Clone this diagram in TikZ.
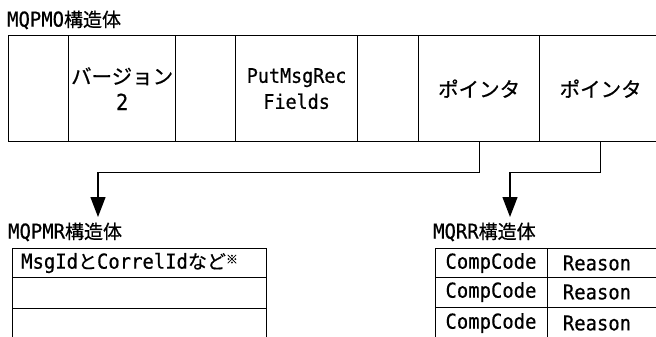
\documentclass[tikz,border=0pt]{standalone}
\usepackage{fontspec}
\setmainfont[FakeBold=0.6]{Noto Sans CJK JP}
\newfontfamily\latn[Scale=1.08,FakeStretch=0.92,FakeBold=0.6]{DejaVu Sans Mono}
\usetikzlibrary{arrows.meta}
\newcommand\Lt[1]{{\latn #1}}

\begin{document}
\begin{tikzpicture}[x=1pt,y=-1pt,
  frame/.style={draw=black,line width=1.3pt,inner sep=0pt,anchor=north west},
  topcell/.style={frame,minimum height=106pt,align=center,
    font=\fontsize{18.5}{26}\selectfont},
  rowcell/.style={frame,align=center,font=\fontsize{19}{20}\selectfont},
  lbl/.style={inner sep=0pt,anchor=west,font=\fontsize{19}{20}\selectfont},
  txt/.style={inner sep=0pt,font=\fontsize{19}{20}\selectfont},
  conn/.style={draw=black,line width=1.3pt,-{Triangle[length=20pt,width=15pt]}}]

\clip (0,0) rectangle (656,337);
\fill[white] (0,0) rectangle (656,337);

% MQPMO structure: one row of fields
\node[lbl] (lpmo) at (7,20) {\Lt{MQPMO}構造体};
\node[topcell,minimum width=60pt]  (c1) at (8,35)   {};
\node[topcell,minimum width=107pt,font=\fontsize{20.5}{26}\selectfont] (c2) at (68,35) {バージョン\\\Lt{2}};
\node[topcell,minimum width=60pt]  (c3) at (175,35) {};
\node[topcell,minimum width=122pt] (c4) at (235,35) {\Lt{PutMsgRec}\\\Lt{Fields}};
\node[topcell,minimum width=61pt]  (c5) at (357,35) {};
\node[topcell,minimum width=121pt,font=\fontsize{20.5}{24}\selectfont] (c6) at (418,35) {ポインタ};
\node[topcell,minimum width=122pt,font=\fontsize{20.5}{24}\selectfont] (c7) at (539,35) {ポインタ};

% MQPMR structure
\node[lbl] (lpmr) at (8,232) {\Lt{MQPMR}構造体};
\node[rowcell,minimum width=254pt,minimum height=29pt] (p1) at (12,248) {};
\node[rowcell,minimum width=254pt,minimum height=31pt] (p2) at (12,277) {};
\node[rowcell,minimum width=254pt,minimum height=50pt] (p3) at (12,308) {};
\node[txt,anchor=west] (pt) at (21,263)
  {\Lt{MsgId}と\Lt{CorrelId}など\raisebox{5pt}{\fontsize{12}{12}\selectfont ※}};

% MQRR structure
\node[lbl] (lrr) at (433,232) {\Lt{MQRR}構造体};
\node[rowcell,minimum width=112pt,minimum height=29pt] (a1) at (435,248) {};
\node[rowcell,minimum width=112pt,minimum height=30pt] (a2) at (435,277) {};
\node[rowcell,minimum width=112pt,minimum height=50pt] (a3) at (435,307) {};
\node[rowcell,minimum width=130pt,minimum height=29pt] (b1) at (547,248) {};
\node[rowcell,minimum width=130pt,minimum height=30pt] (b2) at (547,277) {};
\node[rowcell,minimum width=130pt,minimum height=50pt] (b3) at (547,307) {};
\node[txt] (q1) at (491,263) {\Lt{CompCode}};
\node[txt] (q2) at (491,292) {\Lt{CompCode}};
\node[txt] (q3) at (491,323) {\Lt{CompCode}};
\node[txt] (r1) at (597,263) {\Lt{Reason}};
\node[txt] (r2) at (597,292) {\Lt{Reason}};
\node[txt] (r3) at (597,323) {\Lt{Reason}};

% pointer connectors
\coordinate (tipA) at (98,217);
\coordinate (tipB) at (510,217);
\draw[conn] (c6.south) -- ++(0,30) -| (tipA);
\draw[conn] (c7.south) -- ++(0,30) -| (tipB);
\end{tikzpicture}
\end{document}
